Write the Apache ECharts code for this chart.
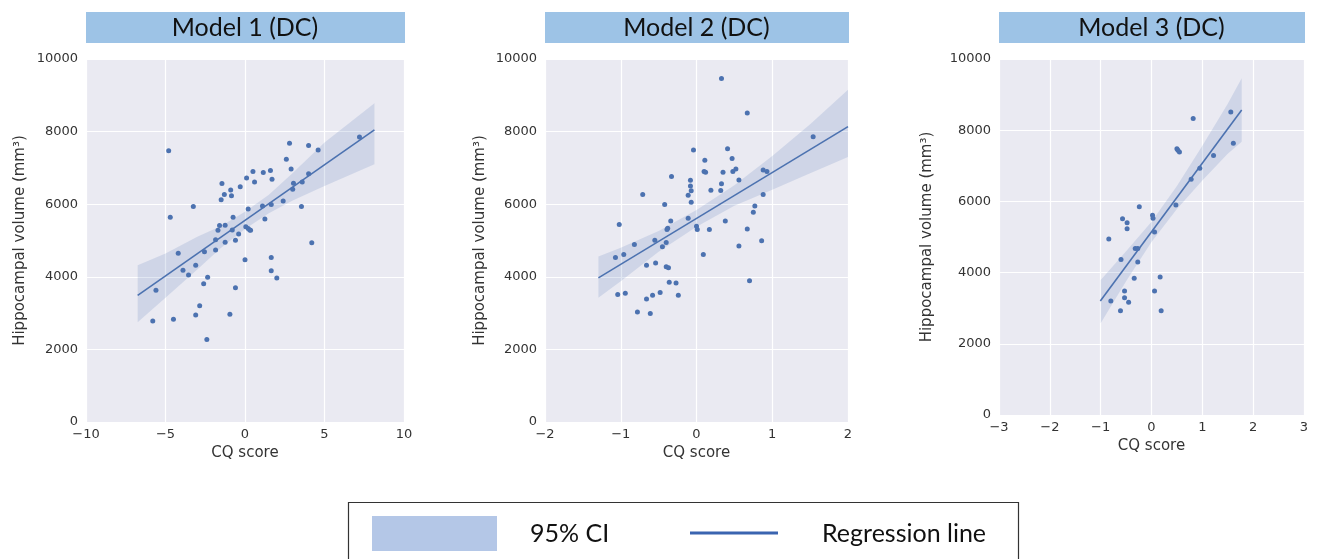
<!DOCTYPE html>
<html>
<head>
<meta charset="utf-8">
<script src="https://cdn.jsdelivr.net/npm/echarts@6/dist/echarts.min.js"></script>
<style>
  html, body { margin: 0; padding: 0; background: #fff; }
  #chart { width: 1317px; height: 559px; }
</style>
</head>
<body>
<div id="chart"></div>
<script>
  // Model 1 (DC) scatter points
  const p1X = [-4.8, -4.7, -5.6, -5.8, -4.5, -4.2, -3.9, -3.55, -3.25, -3.1, -3.1, -2.85, -2.6, -2.55, -2.4, -2.35, -1.85, -1.85, -1.7, -1.6, -1.5, -1.45, -1.3, -1.25, -1.25, -0.95, -0.9, -0.85, -0.75, -0.8, -0.6, -0.6, -0.4, -0.3, 0.0, 0.05, 0.1, 0.2, 0.2, 0.3, 0.35, 0.5, 0.6, 1.1, 1.15, 1.25, 1.6, 1.65, 1.65, 1.65, 1.7, 2.0, 2.4, 2.6, 2.8, 2.9, 3.0, 3.05, 3.55, 3.6, 4.0, 4.0, 4.2, 4.6, 7.2]
  const p1Y = [7470, 5640, 3630, 2780, 2830, 4650, 4180, 4050, 5940, 4320, 2950, 3200, 3810, 4690, 2270, 3990, 4740, 5020, 5280, 5410, 6120, 6570, 6270, 5420, 4950, 2970, 6390, 6230, 5640, 5290, 5010, 3700, 5180, 6480, 4470, 5380, 6720, 5330, 5870, 5290, 5280, 6900, 6610, 5950, 6870, 5590, 6930, 4530, 4170, 5990, 6690, 3970, 6090, 7240, 7680, 6970, 6410, 6580, 5940, 6610, 6840, 7620, 4940, 7490, 7850]
  const line1X = [-6.75, 8.14]
  const line1Y = [3486, 8046]
  const band1X = [-6.75, -5, -3, -1.5, 0, 1.5, 3, 5, 8.14]
  const band1Lo = [2750, 3420, 4200, 4800, 5320, 5750, 6100, 6500, 7100]
  const band1Hi = [4320, 4640, 5100, 5400, 5790, 6260, 6860, 7700, 8780]

  // Model 2 (DC)
  const p2X = [0.33, 0.67, 1.54, -0.04, 0.41, 0.47, 0.11, 0.52, 0.48, 0.35, 0.10, 0.12, 0.88, 0.93, -0.33, -0.08, 0.56, 0.33, -0.08, -0.07, 0.19, 0.32, -0.71, -0.11, 0.88, -0.07, -0.42, 0.77, 0.75, -0.11, -0.34, 0.38, -1.02, 0.00, 0.01, -0.38, -0.39, 0.17, 0.67, -0.55, -0.40, 0.86, -0.82, -0.45, 0.56, 0.09, -0.96, -1.07, -0.66, -0.54, -0.40, -0.37, -0.36, -0.27, 0.70, -1.04, -0.94, -0.48, -0.58, -0.24, -0.66, -0.78, -0.61]
  const p2Y = [9460, 8510, 7860, 7490, 7530, 7260, 7210, 6970, 6900, 6880, 6900, 6880, 6945, 6900, 6760, 6660, 6670, 6560, 6500, 6370, 6385, 6380, 6270, 6250, 6270, 6055, 5990, 5950, 5780, 5610, 5540, 5540, 5440, 5390, 5300, 5340, 5300, 5300, 5320, 5010, 4945, 4990, 4890, 4830, 4850, 4615, 4615, 4530, 4320, 4380, 4280, 4250, 3850, 3830, 3890, 3510, 3550, 3570, 3490, 3490, 3390, 3030, 2990]
  const line2X = [-1.295, 2.0]
  const line2Y = [3972, 8138]
  const band2X = [-1.295, -1, -0.5, 0, 0.5, 1, 1.5, 2]
  const band2Lo = [3420, 3880, 4690, 5380, 5960, 6400, 6850, 7300]
  const band2Hi = [4560, 4800, 5260, 5840, 6520, 7330, 8200, 9150]

  // Model 3 (DC)
  const p3X = [1.56, 0.82, 1.61, 0.50, 0.52, 0.55, 1.22, 0.95, 0.78, 0.48, -0.24, 0.02, 0.03, -0.57, -0.48, -0.48, 0.06, -0.84, -0.32, -0.27, -0.60, -0.27, -0.34, 0.17, -0.53, 0.06, -0.53, -0.80, -0.45, -0.61, 0.19]
  const p3Y = [8510, 8330, 7630, 7480, 7435, 7390, 7290, 6930, 6620, 5900, 5850, 5610, 5525, 5515, 5400, 5235, 5140, 4945, 4680, 4680, 4365, 4300, 3840, 3875, 3485, 3485, 3295, 3200, 3165, 2930, 2930]
  const line3X = [-1.007, 1.774]
  const line3Y = [3202, 8567]
  const band3X = [-1.0, -0.5, 0, 0.5, 1.0, 1.5, 1.774]
  const band3Lo = [2575, 3760, 4860, 5790, 6590, 7340, 7677]
  const band3Hi = [3792, 4600, 5430, 6430, 7560, 8740, 9457]

  const titles = ['Model 1 (DC)', 'Model 2 (DC)', 'Model 3 (DC)']
  const xRanges = [[-10, 10, 5], [-2, 2, 1], [-3, 3, 1]]

  const panels = [
    {px: p1X, py: p1Y, lx: line1X, ly: line1Y, bx: band1X, lo: band1Lo, hi: band1Hi},
    {px: p2X, py: p2Y, lx: line2X, ly: line2Y, bx: band2X, lo: band2Lo, hi: band2Hi},
    {px: p3X, py: p3Y, lx: line3X, ly: line3Y, bx: band3X, lo: band3Lo, hi: band3Hi}
  ]

  // plot boxes, left / top / width / height
  const boxes = [
    {left: 86, top: 59, width: 318, height: 363, nameGap: 58},
    {left: 545, top: 59, width: 303, height: 363, nameGap: 57},
    {left: 999, top: 59, width: 305, height: 356, nameGap: 64}
  ]

  const deep = '#4c72b0'
  const txt = '#333'
  const mono = 'DejaVu Sans, sans-serif'
  const minus = v => String(v).replace('-', '\u2212')

  const chart = echarts.init(document.getElementById('chart'))

  const grid = boxes.map(b => ({
    left: b.left, top: b.top, width: b.width, height: b.height,
    show: true, backgroundColor: '#eaeaf2', borderWidth: 0
  }))

  const xAxis = xRanges.map((r, i) => ({
    type: 'value', gridIndex: i, min: r[0], max: r[1], interval: r[2],
    axisLine: {show: false}, axisTick: {show: false},
    splitLine: {lineStyle: {color: '#fff', width: 1.2}},
    axisLabel: {fontFamily: mono, fontSize: 13, color: txt, margin: 6, formatter: minus},
    name: 'CQ score', nameLocation: 'middle', nameGap: 22,
    nameTextStyle: {fontFamily: mono, fontSize: 15, color: txt}
  }))

  const yAxis = boxes.map((b, i) => ({
    type: 'value', gridIndex: i, min: 0, max: 10000, interval: 2000,
    axisLine: {show: false}, axisTick: {show: false},
    splitLine: {lineStyle: {color: '#fff', width: 1.2}},
    axisLabel: {fontFamily: mono, fontSize: 13, color: txt, margin: 8, formatter: v => String(v)},
    name: 'Hippocampal volume (mm\u00b3)', nameLocation: 'middle', nameGap: b.nameGap,
    nameTextStyle: {fontFamily: mono, fontSize: 15, color: txt}
  }))

  const series = []
  panels.forEach((p, i) => {
    series.push({
      type: 'custom', xAxisIndex: i, yAxisIndex: i, clip: true, silent: true,
      data: p.bx.map((x, k) => [x, p.lo[k], p.hi[k]]),
      encode: {x: 0, y: [1, 2]},
      renderItem(params, api) {
        if (params.dataIndex !== 0) return
        const pts = []
        p.bx.forEach((x, k) => pts.push(api.coord([x, p.hi[k]])))
        for (let k = p.bx.length - 1; k >= 0; k--) pts.push(api.coord([p.bx[k], p.lo[k]]))
        return {type: 'polygon', shape: {points: pts}, style: {fill: 'rgba(76,114,176,0.17)'}}
      },
      z: 2
    })
    series.push({
      type: 'line', xAxisIndex: i, yAxisIndex: i, showSymbol: false, silent: true,
      data: p.lx.map((x, k) => [x, p.ly[k]]),
      lineStyle: {color: deep, width: 1.6}, z: 3
    })
    series.push({
      type: 'scatter', xAxisIndex: i, yAxisIndex: i, symbolSize: 5,
      data: p.px.map((x, k) => [x, p.py[k]]),
      itemStyle: {color: deep, opacity: 1}, z: 4
    })
  })

  const graphic = []
  boxes.forEach((b, i) => {
    graphic.push({
      type: 'rect', shape: {x: b.left, y: 12, width: b.width + 1, height: 31},
      style: {fill: '#9dc3e6'}
    })
    graphic.push({
      type: 'text', x: b.left + b.width / 2, y: 28,
      style: {text: titles[i], font: '25px Lato, sans-serif', fill: '#111',
        textAlign: 'center', textVerticalAlign: 'middle', align: 'center', verticalAlign: 'middle'}
    })
  })
  // legend box
  graphic.push({type: 'rect', shape: {x: 348.5, y: 502.5, width: 670, height: 70},
    style: {fill: '#fff', stroke: '#333', lineWidth: 1.2}})
  graphic.push({type: 'rect', shape: {x: 372, y: 516, width: 125, height: 35},
    style: {fill: '#b4c7e7'}})
  graphic.push({type: 'text', x: 530, y: 534,
    style: {text: '95% CI', font: '25px Lato, sans-serif', fill: '#111',
      textAlign: 'left', textVerticalAlign: 'middle', align: 'left', verticalAlign: 'middle'}})
  graphic.push({type: 'line', shape: {x1: 690, y1: 533, x2: 778, y2: 533},
    style: {stroke: '#3a64b0', lineWidth: 3}})
  graphic.push({type: 'text', x: 822, y: 534,
    style: {text: 'Regression line', font: '25px Lato, sans-serif', fill: '#111',
      textAlign: 'left', textVerticalAlign: 'middle', align: 'left', verticalAlign: 'middle'}})

  chart.setOption({
    animation: false,
    backgroundColor: '#fff',
    grid: grid,
    xAxis: xAxis,
    yAxis: yAxis,
    series: series,
    graphic: graphic
  })
</script>
</body>
</html>
